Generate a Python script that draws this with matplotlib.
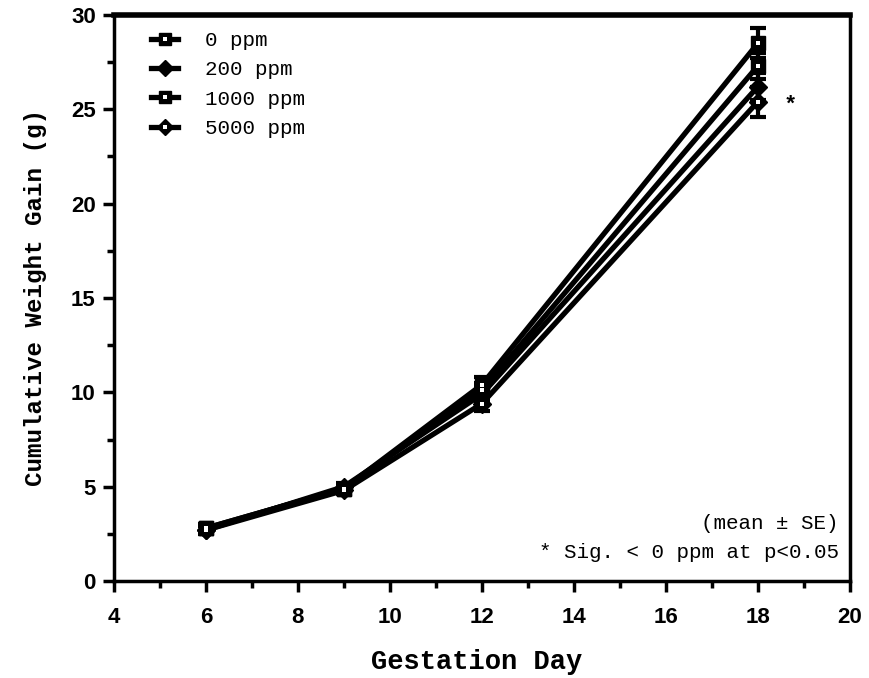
import numpy as np
import matplotlib.pyplot as plt
from matplotlib.lines import Line2D
from matplotlib.legend_handler import HandlerTuple
from matplotlib.ticker import MultipleLocator

# gestation days and mean cumulative weight gain per dose group
days = [6, 9, 12, 18]
groups = ["0 ppm", "200 ppm", "1000 ppm", "5000 ppm"]
gain_0 = [2.8, 4.9, 10.4, 28.5]
gain_200 = [2.7, 5.0, 9.9, 26.2]
gain_1000 = [2.8, 4.9, 10.1, 27.3]
gain_5000 = [2.7, 4.8, 9.4, 25.4]
se_0 = [0.2, 0.2, 0.4, 0.8]
se_200 = [0.2, 0.2, 0.4, 0.7]
se_1000 = [0.2, 0.2, 0.4, 0.7]
se_5000 = [0.2, 0.2, 0.4, 0.8]

gains = [gain_0, gain_200, gain_1000, gain_5000]
ses = [se_0, se_200, se_1000, se_5000]
markers = ["s", "D", "s", "D"]
msizes = [10, 9, 10, 9]
dots = [3.5, 0, 2.5, 2.5]

mono = "Liberation Mono"
sans = "Liberation Sans"

fig = plt.figure(figsize=(8.69, 6.78), dpi=100)
ax = fig.add_axes([0.131, 0.143, 0.847, 0.835])

handles = []
for name, g, s, m, ms, d in zip(groups, gains, ses, markers, msizes, dots):
    ax.errorbar(days, g, yerr=s, color="black", lw=3.8, marker=m, ms=ms,
                mfc="black", mec="black", capsize=6, capthick=3,
                elinewidth=3)
    line = Line2D([], [], color="black", lw=3.8, marker=m, ms=ms - 1,
                  mfc="black", mec="black")
    if d > 0:
        # small open centre in the marker
        ax.plot(days, g, ls="none", marker="s", ms=d, mfc="white", mew=0,
                zorder=5)
        dot = Line2D([], [], ls="none", marker="s", ms=d, mfc="white", mew=0)
        handles.append((line, dot))
    else:
        handles.append((line,))

ax.text(18.7, 25.2, "*", fontsize=16, fontfamily=mono, fontweight="bold",
        ha="center", va="center")

ax.set_xlim(4, 20)
ax.set_ylim(0, 30)
ax.xaxis.set_major_locator(MultipleLocator(2))
ax.xaxis.set_minor_locator(MultipleLocator(1))
ax.yaxis.set_major_locator(MultipleLocator(5))
ax.yaxis.set_minor_locator(MultipleLocator(2.5))
ax.tick_params(which="both", direction="out", width=2.5, labelsize=16)
ax.tick_params(which="major", length=8, pad=5)
ax.tick_params(which="minor", length=5)
ax.tick_params(axis="x", which="major", pad=11)
for lab in ax.get_xticklabels() + ax.get_yticklabels():
    lab.set_fontfamily(sans)
    lab.set_fontweight("bold")

ax.spines["top"].set_linewidth(4)
for side in ["left", "right", "bottom"]:
    ax.spines[side].set_linewidth(2.5)

ax.set_xlabel("Gestation Day", fontfamily=mono, fontweight="bold",
              fontsize=19.5)
ax.xaxis.set_label_coords(0.493, -0.12)
ax.set_ylabel("Cumulative Weight Gain (g)", fontfamily=mono,
              fontweight="bold", fontsize=17.5, labelpad=17)

ax.legend(handles=handles, labels=groups, loc="upper left",
          bbox_to_anchor=(0.025, 1.005), frameon=False,
          handler_map={tuple: HandlerTuple(ndivide=1, pad=0)},
          handlelength=1.3, handletextpad=1.3, labelspacing=0.5,
          prop={"family": mono, "size": 15})

ax.text(0.985, 0.102, "(mean \u00b1 SE)", transform=ax.transAxes, ha="right",
        va="center", fontfamily=mono, fontsize=15)
ax.text(0.985, 0.05, "* Sig. < 0 ppm at p<0.05", transform=ax.transAxes,
        ha="right", va="center", fontfamily=mono, fontsize=15)

fig.savefig("out.png", dpi=100)
